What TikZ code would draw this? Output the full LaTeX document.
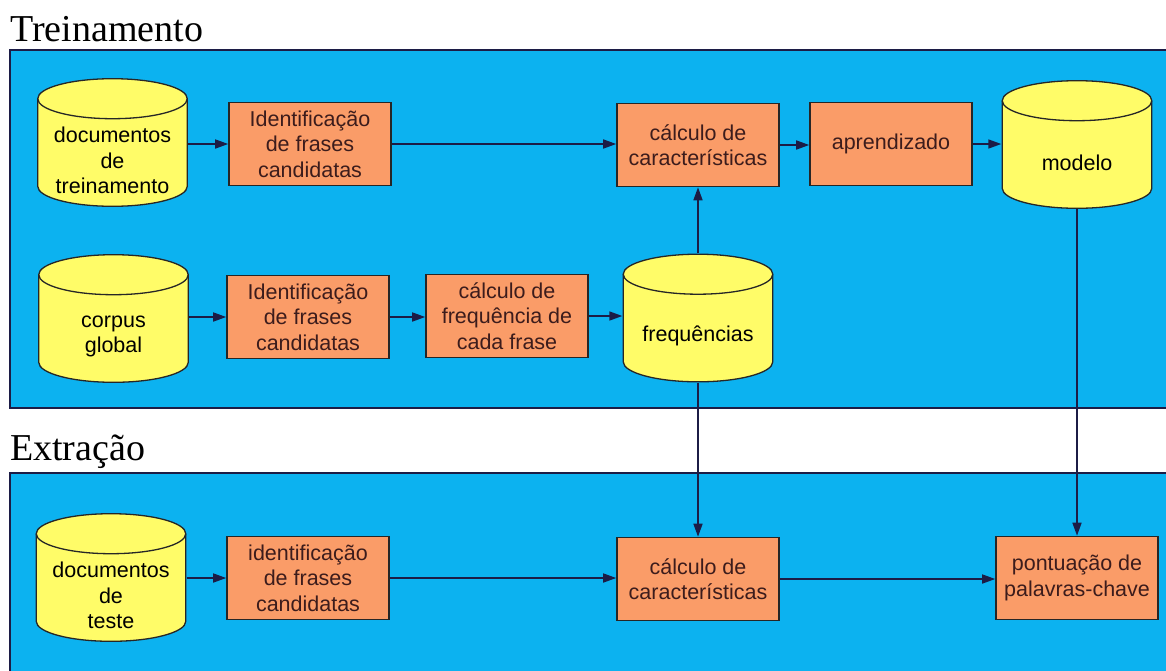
\documentclass[tikz,border=0pt]{standalone}
\usepackage{fontspec}
\setmainfont{Liberation Serif}
\setsansfont{Liberation Sans}
\usetikzlibrary{arrows.meta}

\definecolor{panelblue}{RGB}{12,178,240}
\definecolor{boxorange}{RGB}{250,156,104}
\definecolor{dbyellow}{RGB}{255,252,104}
\definecolor{edgenavy}{RGB}{28,28,70}
\definecolor{boxtext}{RGB}{60,28,28}

\tikzset{
  panel/.style={fill=panelblue, draw=edgenavy, line width=2pt},
  title/.style={anchor=base west, inner sep=0pt, font=\fontsize{38}{40}\selectfont},
  procbox/.style={rectangle, draw=black!85, line width=1.6pt, fill=boxorange,
    minimum width=162pt, minimum height=83pt, align=center, inner sep=2pt,
    text=boxtext, font=\sffamily\fontsize{21.5}{25.5}\selectfont},
  % drum: a storage cylinder drawn inside its own rectangle
  drum/.style={rectangle, minimum width=151pt, minimum height=129pt, inner sep=0pt,
    path picture={
      \path[draw=black!85, line width=1.3pt, fill=dbyellow]
        ([shift={(0.7pt,20.7pt)}]path picture bounding box.south west)
        arc[start angle=180, end angle=360, x radius=74.8pt, y radius=20pt]
        -- ([shift={(-0.7pt,-20.7pt)}]path picture bounding box.north east)
        arc[start angle=0, end angle=180, x radius=74.8pt, y radius=20pt]
        -- cycle;
      \draw[black!85, line width=1.3pt]
        ([shift={(0.7pt,-20.7pt)}]path picture bounding box.north west)
        arc[start angle=180, end angle=360, x radius=74.8pt, y radius=20pt];
    }},
  drumtext/.style={align=center, inner sep=0pt, yshift=-18pt,
    font=\sffamily\fontsize{21.5}{25.5}\selectfont},
  flow/.style={draw=edgenavy, line width=1.6pt, -{Triangle[length=13pt,width=9pt]}},
}

\begin{document}
\begin{tikzpicture}[x=1pt, y=-1pt]
    \useasboundingbox (0,0) rectangle (1166,670);

    % Panels and titles
    \draw[panel] (10,50) rectangle (1180,408);
    \draw[panel] (10,473) rectangle (1180,690);
    \node[title] (ttrain) at (10,41) {Treinamento};
    \node[title] (textract) at (10,460) {Extração};

    % Training: first row
    \node[drum, label={[drumtext]center:documentos\\de\\treinamento}] (dtrain) at (112.5,142.5) {};
    \node[procbox] (idA) at (310,144) {Identificação\\de frases\\candidatas};
    \node[procbox] (calcA) at (698,145) {cálculo de\\características};
    \node[procbox] (learn) at (891,144) {aprendizado};
    \node[drum, label={[drumtext]center:modelo}] (model) at (1077,144.5) {};

    % Training: second row
    \node[drum, label={[drumtext]center:corpus\\global}] (corpus) at (113.5,318.5) {};
    \node[procbox] (idB) at (308,317) {Identificação\\de frases\\candidatas};
    \node[procbox] (calcF) at (507,316) {cálculo de\\frequência de\\cada frase};
    \node[drum, label={[drumtext]center:frequências}] (freq) at (698,318) {};

    % Extraction
    \node[drum, label={[drumtext]center:documentos\\de\\teste}] (dtest) at (111,577.5) {};
    \node[procbox] (idC) at (308,578) {identificação\\de frases\\candidatas};
    \node[procbox] (calcB) at (698,579) {cálculo de\\características};
    \node[procbox] (score) at (1077,578) {pontuação de\\palavras-chave};

    % Connectors
    \draw[flow] (idA.west -| dtrain.east) -- (idA.west);
    \draw[flow] (idA.east) -- (idA.east -| calcA.west);
    \draw[flow] (calcA.east) -- (calcA.east -| learn.west);
    \draw[flow] (learn.east) -- (learn.east -| model.west);
    \draw[flow] (freq.north) -- (freq.north |- calcA.south);
    \draw[flow] (idB.west -| corpus.east) -- (idB.west);
    \draw[flow] (idB.east) -- (idB.east -| calcF.west);
    \draw[flow] (calcF.east) -- (calcF.east -| freq.west);
    \draw[flow] (freq.south) -- (freq.south |- calcB.north);
    \draw[flow] (model.south) -- (model.south |- score.north);
    \draw[flow] (idC.west -| dtest.east) -- (idC.west);
    \draw[flow] (idC.east) -- (idC.east -| calcB.west);
    \draw[flow] (calcB.east) -- (calcB.east -| score.west);

\end{tikzpicture}
\end{document}
